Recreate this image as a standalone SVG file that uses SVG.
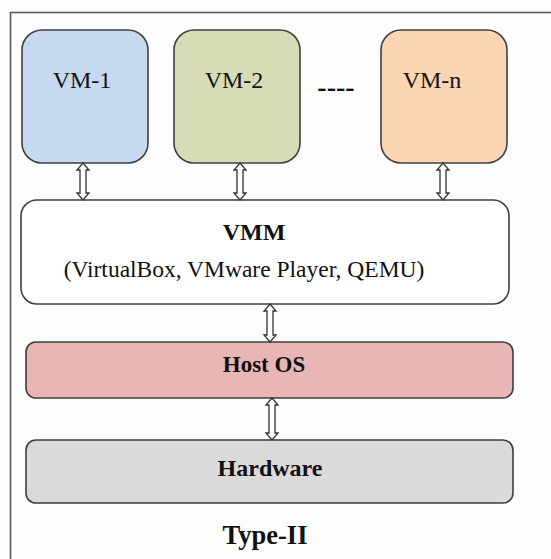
<svg xmlns="http://www.w3.org/2000/svg" width="551" height="559" viewBox="0 0 551 559">
<style>
.box{stroke:#3f3f3f;stroke-width:1.6}
.t{font-family:'Liberation Serif','Times New Roman','Noto Serif','DejaVu Serif',serif;fill:#111;text-anchor:middle}
.b{font-weight:bold}
.arr{fill:#fff;stroke:#333;stroke-width:1.3;stroke-linejoin:miter}
</style>
<rect width="551" height="559" fill="#fdfdfd"/>
<path d="M10.5,559 V12.5 H551" fill="none" stroke="#555" stroke-width="1.6"/>
<g id="vm1"><rect class="box" x="22" y="30" width="126" height="133" rx="20" fill="#c6d9f0"/><text class="t" x="82" y="88" font-size="24">VM-1</text></g>
<g id="vm2"><rect class="box" x="174" y="30" width="126" height="133" rx="20" fill="#d7dcb6"/><text class="t" x="234" y="88" font-size="24">VM-2</text></g>
<g id="dots"><text class="t b" x="336" y="96" font-size="28">----</text></g>
<g id="vmn"><rect class="box" x="381" y="30" width="126" height="133" rx="20" fill="#fcd5b4"/><text class="t" x="432" y="88" font-size="24">VM-n</text></g>
<g id="vmm"><rect class="box" x="21" y="200" width="488" height="104" rx="16" fill="#fff"/><text class="t b" x="254" y="240" font-size="24">VMM</text><text class="t" x="244" y="277" font-size="23.5">(VirtualBox, VMware Player, QEMU)</text></g>
<g id="hostos"><rect class="box" x="26" y="342" width="487" height="56" rx="10" fill="#e8b6b4"/><text class="t b" x="264" y="372" font-size="23">Host OS</text></g>
<g id="hardware"><rect class="box" x="26" y="440" width="487" height="63" rx="10" fill="#dadada"/><text class="t b" x="270" y="476" font-size="24">Hardware</text></g>
<g id="label"><text class="t b" x="265" y="544" font-size="26.5">Type-II</text></g>
<g id="connectors">
<polygon class="arr" points="83,163 89,170 86,170 86,193 89,193 83,200 77,193 80,193 80,170 77,170"/>
<polygon class="arr" points="240,163 246,170 243,170 243,193 246,193 240,200 234,193 237,193 237,170 234,170"/>
<polygon class="arr" points="443,163 449,170 446,170 446,193 449,193 443,200 437,193 440,193 440,170 437,170"/>
<polygon class="arr" points="270,304 276,311 273,311 273,335 276,335 270,342 264,335 267,335 267,311 264,311"/>
<polygon class="arr" points="272,398 278,405 275,405 275,433 278,433 272,440 266,433 269,433 269,405 266,405"/>
</g>
</svg>
